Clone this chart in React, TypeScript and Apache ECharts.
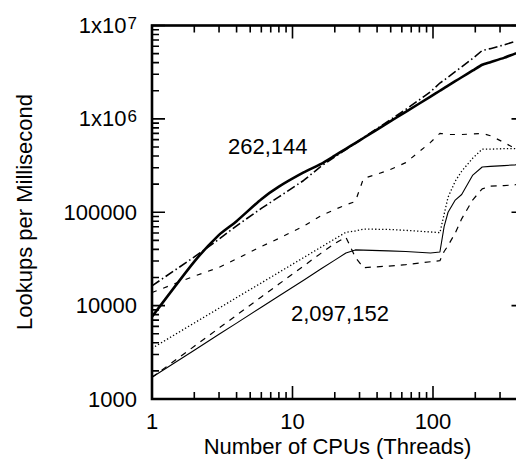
import React, { useEffect, useRef } from 'react';
import * as echarts from 'echarts';

// Thread counts (x values)
const threads = [1, 2, 3, 4, 6, 8, 12, 16, 20, 24, 28, 32, 48, 64, 96, 112, 120, 128, 144, 160, 192, 224, 256, 320, 384, 448];

// 262,144-entry table
const thickSolid = [7600, 29600, 57300, 80300, 138000, 188000, 267000, 330000, 404000, 478000, 551000, 624000, 910000, 1190000, 1730000, 2000000, 2130000, 2270000, 2530000, 2790000, 3300000, 3800000, 4050000, 4500000, 5000000, 5400000];
const dashDot = [16300, 33200, 51500, 71600, 110000, 146000, 219000, 312000, 392000, 470000, 548000, 630000, 945000, 1260000, 1950000, 2420000, 2600000, 2800000, 3200000, 3600000, 4450000, 5400000, 5650000, 6200000, 6750000, 7200000];
const shortDash = [13800, 20700, 25700, 31700, 43000, 52500, 71000, 92000, 107000, 120000, 130000, 230000, 280000, 340000, 560000, 700000, 690000, 680000, 680000, 680000, 690000, 700000, 660000, 560000, 480000, 420000];

// 2,097,152-entry table
const dotted = [3490, 6520, 9380, 12200, 17500, 22700, 32700, 42400, 51800, 61000, 63000, 66000, 65500, 64000, 61500, 60500, 95000, 145000, 215000, 275000, 380000, 474000, 474000, 480000, 480000, 450000];
const thinSolid = [1710, 3330, 4930, 6500, 9600, 12700, 18700, 24800, 30700, 36600, 39500, 39300, 38600, 38000, 36600, 37500, 70000, 100000, 135000, 155000, 250000, 305000, 310000, 316000, 322000, 330000];
const dashed = [1710, 3670, 5750, 7900, 12400, 17000, 26600, 36500, 46300, 54000, 33000, 25500, 26500, 27500, 29500, 30300, 38000, 44000, 60000, 85000, 136000, 178000, 190000, 193000, 197000, 200000];

// Axis ranges and ticks
const X_MIN = 1;
const X_MAX = 448;
const Y_MIN = 1000;
const Y_MAX = 10000000;
const xMajorTicks = [1, 10, 100];
const xMinorTicks = [2, 3, 4, 5, 6, 7, 8, 9, 20, 30, 40, 50, 60, 70, 80, 90, 200, 300, 400];
const yMajorTicks = [1000, 10000, 100000, 1000000, 10000000];
const yMinorTicks = [
  2000, 3000, 4000, 5000, 6000, 7000, 8000, 9000,
  20000, 30000, 40000, 50000, 60000, 70000, 80000, 90000,
  200000, 300000, 400000, 500000, 600000, 700000, 800000, 900000,
  2000000, 3000000, 4000000, 5000000, 6000000, 7000000, 8000000, 9000000,
];
const xTickLabels = ['1', '10', '100'];
const yTickLabels = ['1000', '10000', '100000', '{b|1x10}{s|6}', '{b|1x10}{s|7}'];

const labelA = '262,144';
const labelB = '2,097,152';
const xTitle = 'Number of CPUs (Threads)';
const yTitle = 'Lookups per Millisecond';

const FONT = "'Liberation Sans', Arial, Helvetica, sans-serif";

const decade = (v: number) => Math.round(Math.log10(v));
const isPow10 = (v: number) => Math.abs(Math.log10(v) - decade(v)) < 1e-6;

function pairs(ys: number[]) {
  return threads.map((x, i) => [x, ys[i]]);
}

export default function App() {
  const ref = useRef<HTMLDivElement>(null);
  useEffect(() => {
    if (!ref.current) return;
    const chart = echarts.init(ref.current, undefined, { renderer: 'svg' });
    const lineSeries = (name: string, ys: number[], width: number, type: any, smooth = 0) => ({
      name,
      type: 'line',
      data: pairs(ys),
      symbol: 'none',
      showSymbol: false,
      smooth,
      clip: true,
      lineStyle: { color: '#000', width, type, cap: 'butt', join: 'round' },
      z: 3,
    });
    const series: any[] = [
      lineSeries('thickSolid', thickSolid, 2.6, 'solid', 0.2),
      lineSeries('dashDot', dashDot, 1.6, [9, 3, 1.5, 3]),
      lineSeries('shortDash', shortDash, 1.2, [5, 7]),
      lineSeries('dotted', dotted, 1.3, [1.3, 2.2]),
      lineSeries('thinSolid', thinSolid, 1.1, 'solid'),
      lineSeries('dashed', dashed, 1.2, [6, 6]),
    ];
    const textGraphics: any[] = [
      { type: 'text', left: 228, top: 135, style: { text: labelA, font: `22px ${FONT}`, fill: '#000' } },
      { type: 'text', left: 291, top: 302, style: { text: labelB, font: `22px ${FONT}`, fill: '#000' } },
      { type: 'text', x: 337.5, y: 446, style: { text: xTitle, font: `22px ${FONT}`, fill: '#000', align: 'center', verticalAlign: 'middle' } },
      { type: 'text', x: 24, y: 212, rotation: Math.PI / 2, style: { text: yTitle, font: `22px ${FONT}`, fill: '#000', align: 'center', verticalAlign: 'middle' } },
    ];
    const option: any = {
      animation: false,
      backgroundColor: '#fff',
      grid: {
        left: 152,
        top: 25.5,
        width: 372.5,
        height: 373.5,
        show: true,
        borderColor: '#000',
        borderWidth: 2.6,
        backgroundColor: 'transparent',
      },
      xAxis: {
        type: 'log',
        logBase: 10,
        min: X_MIN,
        max: X_MAX,
        axisLine: { show: false },
        axisTick: { show: false },
        splitLine: { show: false },
        axisLabel: {
          margin: 11,
          color: '#000',
          fontSize: 22,
          fontFamily: FONT,
          showMaxLabel: false,
          formatter: (v: number) => (isPow10(v) ? xTickLabels[decade(v)] ?? '' : ''),
        },
      },
      yAxis: {
        type: 'log',
        logBase: 10,
        min: Y_MIN,
        max: Y_MAX,
        axisLine: { show: false },
        axisTick: { show: false },
        splitLine: { show: false },
        axisLabel: {
          margin: 15,
          color: '#000',
          fontSize: 22,
          fontFamily: FONT,
          formatter: (v: number) => (isPow10(v) ? yTickLabels[decade(v) - 3] ?? '' : ''),
          rich: {
            b: { fontSize: 22, fontFamily: FONT, color: '#000', verticalAlign: 'bottom' },
            s: { fontSize: 17, fontFamily: FONT, color: '#000', verticalAlign: 'top', lineHeight: 17, padding: [0, 0, 9, 1] },
          },
        },
      },
      graphic: textGraphics,
      series,
    };
    chart.setOption(option);

    // Tick marks: one zig-zag path per side (running along the border, spiking inward),
    // with positions taken from the chart's own log scales.
    const finder = { xAxisIndex: 0, yAxisIndex: 0 };
    const toPx = (x: number, y: number) => chart.convertToPixel(finder, [x, y]) as number[];
    const bl = toPx(X_MIN, Y_MIN);
    const tr = toPx(X_MAX, Y_MAX);
    const left = bl[0], bottom = bl[1], right = tr[0], top = tr[1];
    const xTicks = [...xMajorTicks.map((v) => [v, 13]), ...xMinorTicks.map((v) => [v, 7])].sort((a, b) => a[0] - b[0]);
    const yTicks = [...yMajorTicks.map((v) => [v, 13]), ...yMinorTicks.map((v) => [v, 7])].sort((a, b) => a[0] - b[0]);
    const bottomPts: number[][] = [];
    const topPts: number[][] = [];
    xTicks.forEach(([v, len]) => {
      const x = toPx(v, Y_MIN)[0];
      bottomPts.push([x, bottom], [x, bottom - len], [x, bottom]);
      topPts.push([x, top], [x, top + len], [x, top]);
    });
    const leftPts: number[][] = [];
    const rightPts: number[][] = [];
    yTicks.forEach(([v, len]) => {
      const y = toPx(X_MIN, v)[1];
      leftPts.push([left, y], [left + len, y], [left, y]);
      rightPts.push([right, y], [right - len, y], [right, y]);
    });
    const poly = (pts: number[][]) => ({
      type: 'polyline',
      shape: { points: pts },
      style: { stroke: '#000', lineWidth: 1.6, fill: 'none' },
    });
    chart.setOption({
      graphic: [...textGraphics, poly(bottomPts), poly(topPts), poly(leftPts), poly(rightPts)],
    });
    return () => chart.dispose();
  }, []);
  return (
    <div style={{ position: 'fixed', left: 0, top: 0, width: 516, height: 465, overflow: 'hidden', background: '#fff' }}>
      <div ref={ref} style={{ width: 540, height: 465 }} />
    </div>
  );
}
